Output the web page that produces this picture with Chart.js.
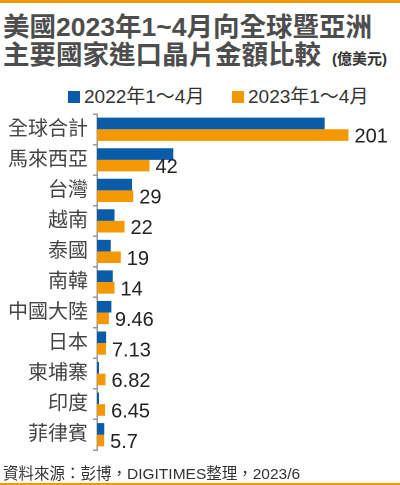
<!DOCTYPE html>
<html>
<head>
<meta charset="utf-8">
<script src="https://cdn.jsdelivr.net/npm/chart.js@4.4.0/dist/chart.umd.min.js"></script>
<style>
  html, body { margin: 0; padding: 0; background: #fff; }
  #wrap { position: relative; width: 400px; height: 485px; overflow: hidden; background: #fff;
          font-family: "Liberation Sans", Arial, "Noto Sans CJK TC", sans-serif; }
  #topline { position: absolute; left: 0; top: 0; width: 400px; height: 3px; background: #f39800; }
  #botline { position: absolute; left: 0; top: 483px; width: 400px; height: 2px; background: #f39800; }
  #title { position: absolute; left: 3px; top: 13px; font-size: 26.5px; font-weight: bold; line-height: 28px;
           color: #4d4d4d; white-space: nowrap; }
  #unit { font-size: 15px; font-weight: bold; margin-left: 11px; color: #333; }
  #legend { position: absolute; top: 85px; left: 0; width: 400px; height: 24px; font-size: 19px; color: #333; }
  .lg { position: absolute; top: 0; white-space: nowrap; line-height: 24px; }
  .lg i { position: absolute; left: 0; top: 6px; width: 12px; height: 12px; }
  .lg span { position: absolute; left: 16px; top: 0; }
  #footer { position: absolute; left: 3px; top: 461px; font-size: 15.5px; color: #333; white-space: nowrap; }
  #chart { position: absolute; left: 0; top: 0; }
</style>
</head>
<body>
<div id="wrap">
  <div id="topline"></div>
  <div id="title">美國2023年1~4月向全球暨亞洲<br>主要國家進口晶片金額比較<span id="unit">(億美元)</span></div>
  <div id="legend"></div>
  <canvas id="chart" width="400" height="485"></canvas>
  <div id="footer">資料來源：彭博，DIGITIMES整理，2023/6</div>
  <div id="botline"></div>
</div>
<script>
const categories = ["全球合計", "馬來西亞", "台灣", "越南", "泰國", "南韓", "中國大陸", "日本", "柬埔寨", "印度", "菲律賓"]
const seriesNames = ["2022年1～4月", "2023年1～4月"]
const values2022 = [182, 61, 28, 14, 11, 12.6, 11.5, 7.3, 1.6, 1.6, 5.8]
const values2023 = [201, 42, 29, 22, 19, 14, 9.46, 7.13, 6.82, 6.45, 5.7]
const colors = ["#0b5ca8", "#f39800"]

function buildLegend() {
       const legend = document.getElementById("legend")
       const lefts = [68, 232]
       seriesNames.forEach((name, i) => {
              legend.innerHTML += `<div class="lg" style="left:${lefts[i]}px"><i style="background:${colors[i]}"></i><span>${name}</span></div>`
       })
}

const valueLabels = {
       id: "valueLabels",
       afterDatasetsDraw(chart) {
              const ctx = chart.ctx
              const meta = chart.getDatasetMeta(1)
              ctx.save()
              ctx.font = '20px "Liberation Sans", Arial, sans-serif'
              ctx.fillStyle = "#222"
              ctx.textAlign = "left"
              ctx.textBaseline = "middle"
              meta.data.forEach((bar, i) => {
                     ctx.fillText(String(values2023[i]), bar.x + 6, bar.y + 2)
              })
              ctx.restore()
       }
}

buildLegend()

new Chart(document.getElementById("chart"), {
       type: "bar",
       data: {
              labels: categories,
              datasets: [
                     { label: seriesNames[0], data: values2022, backgroundColor: colors[0] },
                     { label: seriesNames[1], data: values2023, backgroundColor: colors[1] }
              ]
       },
       options: {
              indexAxis: "y",
              responsive: false,
              animation: false,
              devicePixelRatio: 2,
              categoryPercentage: 0.76,
              barPercentage: 1.0,
              layout: { padding: { top: 114, bottom: 35, left: 0, right: 4 } },
              plugins: {
                     legend: { display: false },
                     tooltip: { enabled: false }
              },
              scales: {
                     x: { display: false, min: 0, max: 239 },
                     y: {
                            afterFit: (scale) => { scale.width = 97 },
                            border: { display: true, color: "#999", width: 1.5 },
                            grid: { offset: true, drawOnChartArea: false, drawTicks: true, tickLength: 4, color: "#999", lineWidth: 1.5 },
                            ticks: {
                                   padding: 5,
                                   color: "#444",
                                   font: { size: 20, family: '"Liberation Sans", Arial, "Noto Sans CJK TC", sans-serif' }
                            }
                     }
              }
       },
       plugins: [valueLabels]
})
</script>
</body>
</html>
